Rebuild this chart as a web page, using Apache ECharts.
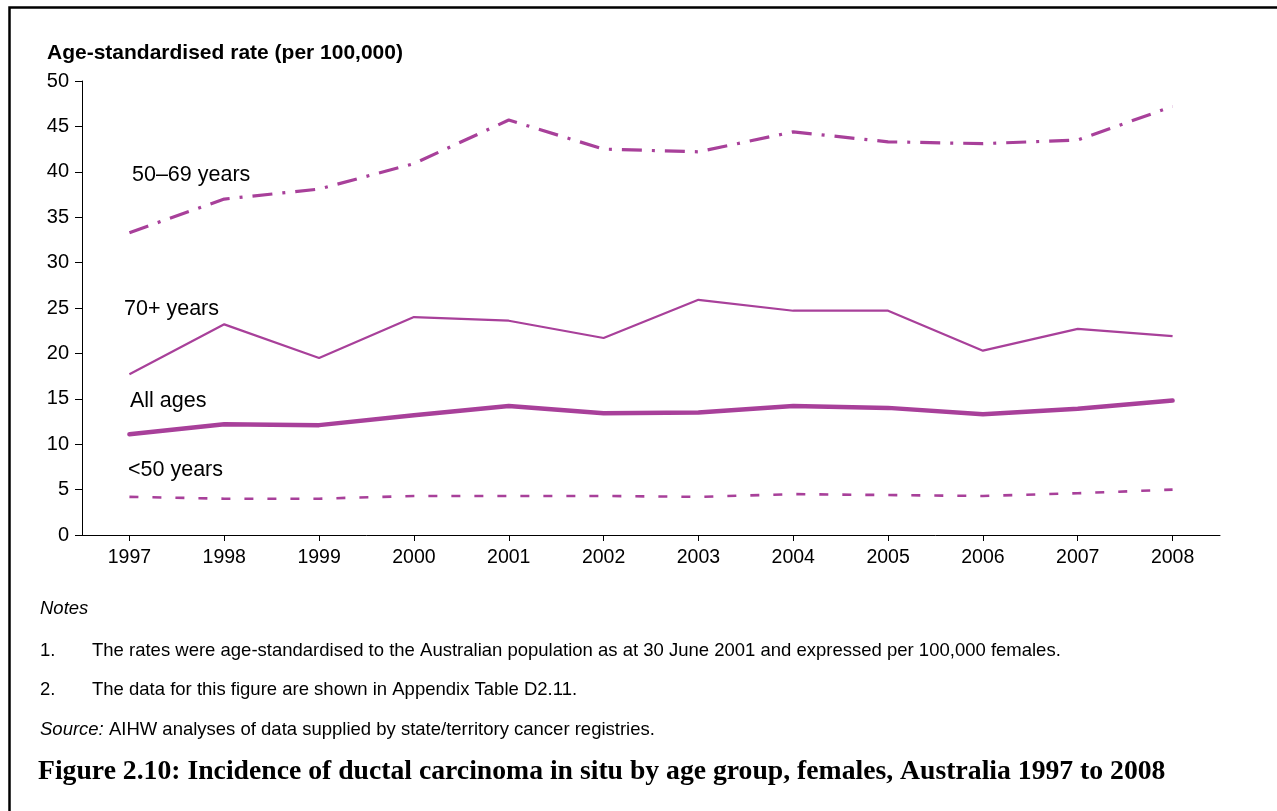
<!DOCTYPE html>
<html>
<head>
<meta charset="utf-8">
<script src="https://cdn.jsdelivr.net/npm/echarts@6/dist/echarts.min.js"></script>
<style>
html,body{margin:0;padding:0;background:#fff;}
#chart{width:1277px;height:811px;}
</style>
</head>
<body>
<div id="chart"></div>
<script>
const years = ['1997','1998','1999','2000','2001','2002','2003','2004','2005','2006','2007','2008'];
const age50to69 = [33.3, 37.0, 38.1, 40.9, 45.7, 42.5, 42.2, 44.4, 43.3, 43.1, 43.5, 47.2];
const age70plus = [17.7, 23.2, 19.5, 24.0, 23.6, 21.7, 25.9, 24.7, 24.7, 20.3, 22.7, 21.9];
const allAges = [11.1, 12.2, 12.1, 13.2, 14.2, 13.4, 13.5, 14.2, 14.0, 13.3, 13.9, 14.8];
const under50 = [4.2, 4.0, 4.0, 4.3, 4.3, 4.3, 4.2, 4.5, 4.4, 4.3, 4.6, 5.0];
const seriesNames = ['50–69 years', '70+ years', 'All ages', '<50 years'];
const yTicks = {min: 0, max: 50, interval: 5};

const purple = '#A8409A';
const chart = echarts.init(document.getElementById('chart'), null, {renderer: 'canvas'});
const sans = 'Liberation Sans, Arial, sans-serif';
const txt = (x, y, text, opts) => ({
  type: 'text', left: x, top: y, silent: true,
  style: Object.assign({text: text, fill: '#000', font: '19px ' + sans}, opts || {})
});

chart.setOption({
  animation: false,
  backgroundColor: '#fff',
  grid: {left: 82, top: 81, right: 57, bottom: 276, containLabel: false},
  xAxis: {
    type: 'category', data: years, boundaryGap: true,
    axisLine: {show: true, lineStyle: {color: '#000', width: 1}},
    axisTick: {show: true, alignWithLabel: true, length: 6, lineStyle: {color: '#000'}},
    axisLabel: {color: '#000', fontSize: 19.5, fontFamily: sans, margin: 13}
  },
  yAxis: {
    type: 'value', min: yTicks.min, max: yTicks.max, interval: yTicks.interval,
    axisLine: {show: true, lineStyle: {color: '#000', width: 1}},
    axisTick: {show: true, length: 7, lineStyle: {color: '#000'}},
    axisLabel: {color: '#000', fontSize: 20, fontFamily: sans, margin: 13},
    splitLine: {show: false}
  },
  series: [
    {name: seriesNames[0], type: 'line', data: age50to69, symbol: 'none',
     lineStyle: {color: purple, width: 3.2, type: [20, 10, 3, 10], cap: 'butt'}},
    {name: seriesNames[1], type: 'line', data: age70plus, symbol: 'none',
     lineStyle: {color: purple, width: 2.2}},
    {name: seriesNames[2], type: 'line', data: allAges, symbol: 'none',
     lineStyle: {color: purple, width: 4.5, cap: 'round'}},
    {name: seriesNames[3], type: 'line', data: under50, symbol: 'none',
     lineStyle: {color: purple, width: 2.6, type: [9, 14]}}
  ],
  graphic: [
    {type: 'rect', left: 7, top: 5, silent: true, shape: {width: 1400, height: 1000},
     style: {fill: 'none', stroke: '#000', lineWidth: 2.5}},
    txt(47, 43, 'Age-standardised rate (per 100,000)', {font: 'bold 21px ' + sans}),
    txt(132, 164, seriesNames[0], {font: '21.5px ' + sans}),
    txt(124, 298, seriesNames[1], {font: '21.5px ' + sans}),
    txt(130, 390, seriesNames[2], {font: '21.5px ' + sans}),
    txt(128, 459, seriesNames[3], {font: '21.5px ' + sans}),
    txt(40, 599, 'Notes', {font: 'italic 18.5px ' + sans}),
    txt(40, 641, '1.', {font: '18.5px ' + sans}),
    txt(92, 641, 'The rates were age-standardised to the Australian population as at 30 June 2001 and expressed per 100,000 females.', {font: '18.5px ' + sans}),
    txt(40, 680, '2.', {font: '18.5px ' + sans}),
    txt(92, 680, 'The data for this figure are shown in Appendix Table D2.11.', {font: '18.5px ' + sans}),
    {type: 'text', left: 40, top: 720, silent: true,
     style: {rich: {i: {font: 'italic 18.5px ' + sans, fill: '#000'}, n: {font: '18.5px ' + sans, fill: '#000'}},
             text: '{i|Source:}{n| AIHW analyses of data supplied by state/territory cancer registries.}'}},
    txt(38, 758, 'Figure 2.10: Incidence of ductal carcinoma in situ by age group, females, Australia 1997 to 2008',
        {font: 'bold 27.7px Liberation Serif, serif'})
  ]
});
</script>
</body>
</html>
